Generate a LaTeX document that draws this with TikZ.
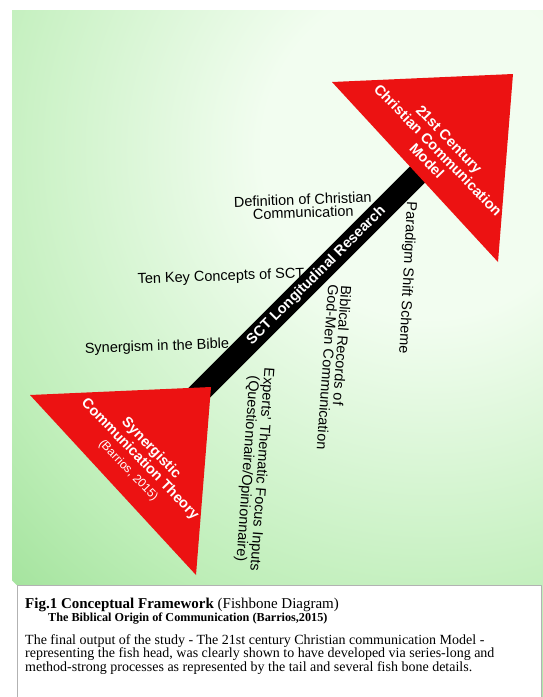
\documentclass[tikz,border=0pt]{standalone}
\usepackage{fontspec}
\setmainfont{Liberation Serif}
\setsansfont{Liberation Sans}
\usepackage{tikz}
\usetikzlibrary{positioning}
\definecolor{fishred}{RGB}{236,18,18}
\definecolor{glowin}{RGB}{242,253,240}
\definecolor{glowmid}{RGB}{190,238,184}
\definecolor{glowout}{RGB}{112,206,104}
\pgfdeclareradialshading{fishglow}{\pgfpoint{0bp}{0bp}}{color(0bp)=(glowin); color(7bp)=(glowin); color(20bp)=(glowmid); color(36bp)=(glowout); color(50bp)=(glowout)}
\tikzset{
  bonelabel/.style={font=\sffamily\fontsize{14.5}{13}\selectfont, text=black, inner sep=0pt, align=center},
  fishlabel/.style={font=\sffamily\bfseries\fontsize{14.5}{15.5}\selectfont, text=white, inner sep=0pt, align=center},
  captext/.style={anchor=base west, inner sep=0pt}
}

\begin{document}
\begin{tikzpicture}[x=1pt,y=-1pt,line cap=round,line join=round]
      \useasboundingbox (0,0) rectangle (543,697);
      \fill[white] (0,0) rectangle (543,697);
      \begin{scope}
        \clip (12,10) rectangle (543,697);
        \shade[shading=fishglow] (430,150) circle (600);
      \end{scope}
      \fill[white] (17,585) rectangle (541,697);
      \draw[black!30,line width=0.6pt] (17,697) |- (541,585) -- (541,697);
      \coordinate (spinetail) at (190,402);
      \coordinate (spinehead) at (420,172);
      \draw[line width=22pt,line cap=butt] (spinetail) -- (spinehead)
        node[pos=0.55,sloped,fishlabel] (spinetext) {SCT Longitudinal Research};
      \fill[fishred] (332,82) -- (513,74) -- (498,262) -- cycle;
      \fill[fishred] (30,395) -- (211,387) -- (196,575) -- cycle;
      \node[fishlabel,rotate=-46] (headtext) at (438,150) {21st Century\\Christian Communication\\Model};
      \node[fishlabel,rotate=-46] (tailtext) at (140,459) {Synergistic\\Communication Theory\\{\mdseries\fontsize{12}{13}\selectfont (Barrios, 2015)}};
      \node[bonelabel,rotate=2] (defn) at (303,206) {Definition of Christian\\Communication};
      \node[bonelabel,rotate=2] (tenkey) at (221,277) {Ten Key Concepts of SCT};
      \node[bonelabel,rotate=2] (synbible) at (157,347) {Synergism in the Bible};
      \node[bonelabel,rotate=-93] (paradigm) at (407,278) {Paradigm Shift Scheme};
      \node[bonelabel,rotate=-94,anchor=west,align=left] (biblical) at (340,285) {Biblical Records of\\God-Men Communication};
      \node[bonelabel,rotate=-94] (experts) at (254,469) {Experts' Thematic Focus Inputs\\(Questionnaire/Opinionnaire)};
      \node[captext,font=\fontsize{15}{13}\selectfont] (figtitle) at (25,608) {\textbf{Fig.1 Conceptual Framework} (Fishbone Diagram)};
      \node[captext,font=\bfseries\fontsize{12.2}{13}\selectfont] (figsubtitle) at (48,621) {The Biblical Origin of Communication (Barrios,2015)};
      \node[anchor=north west,inner sep=0pt,align=left,font=\fontsize{14}{12.5}\selectfont] (figtext) at (25,634)
        {The final output of the study - The 21st century Christian communication Model -\\
         representing the fish head, was clearly shown to have developed via series-long and\\
         method-strong processes as represented by the tail and several fish bone details.};
\end{tikzpicture}
\end{document}
